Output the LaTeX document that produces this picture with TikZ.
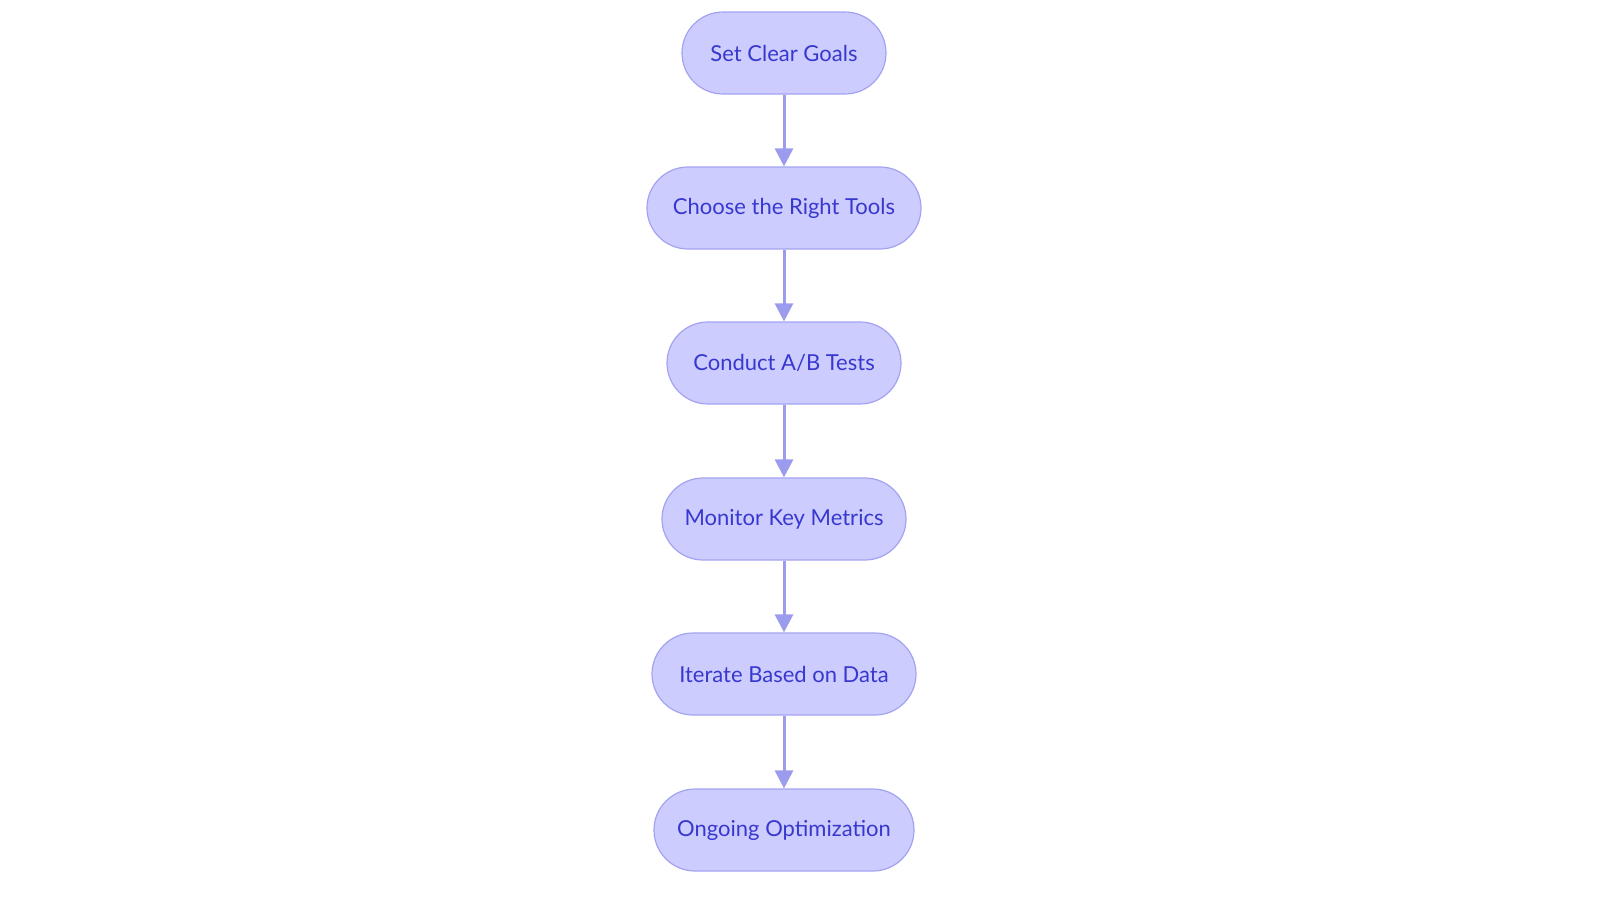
\documentclass[tikz,border=0pt]{standalone}
\usepackage{fontspec}
\setmainfont{Lato}
\usetikzlibrary{arrows.meta}
\definecolor{nodefill}{HTML}{CCCCFF}
\definecolor{nodeline}{HTML}{A3A3F0}
\definecolor{nodetext}{HTML}{3838CF}
\definecolor{arrowcol}{HTML}{9C9CEE}
\begin{document}
\begin{tikzpicture}[x=1pt,y=-1pt,
  stepbox/.style={draw=nodeline, fill=nodefill, line width=1.2pt, rounded corners=41pt,
    minimum height=82pt, inner sep=0pt, text=nodetext, font=\fontsize{22}{25}\selectfont},
  flow/.style={draw=arrowcol, line width=3pt, -{Triangle[length=18pt,width=18pt]}}]
\useasboundingbox (0,0) rectangle (1600,903);
\node[stepbox, minimum width=204pt] (a) at (784,53) {Set Clear Goals};
\node[stepbox, minimum width=274pt] (b) at (784,208) {Choose the Right Tools};
\node[stepbox, minimum width=234pt] (c) at (784,363) {Conduct A/B Tests};
\node[stepbox, minimum width=244pt] (d) at (784,519) {Monitor Key Metrics};
\node[stepbox, minimum width=264pt] (e) at (784,674) {Iterate Based on Data};
\node[stepbox, minimum width=260pt] (f) at (784,830) {Ongoing Optimization};
\draw[flow] (a) -- (b);
\draw[flow] (b) -- (c);
\draw[flow] (c) -- (d);
\draw[flow] (d) -- (e);
\draw[flow] (e) -- (f);
\end{tikzpicture}
\end{document}
